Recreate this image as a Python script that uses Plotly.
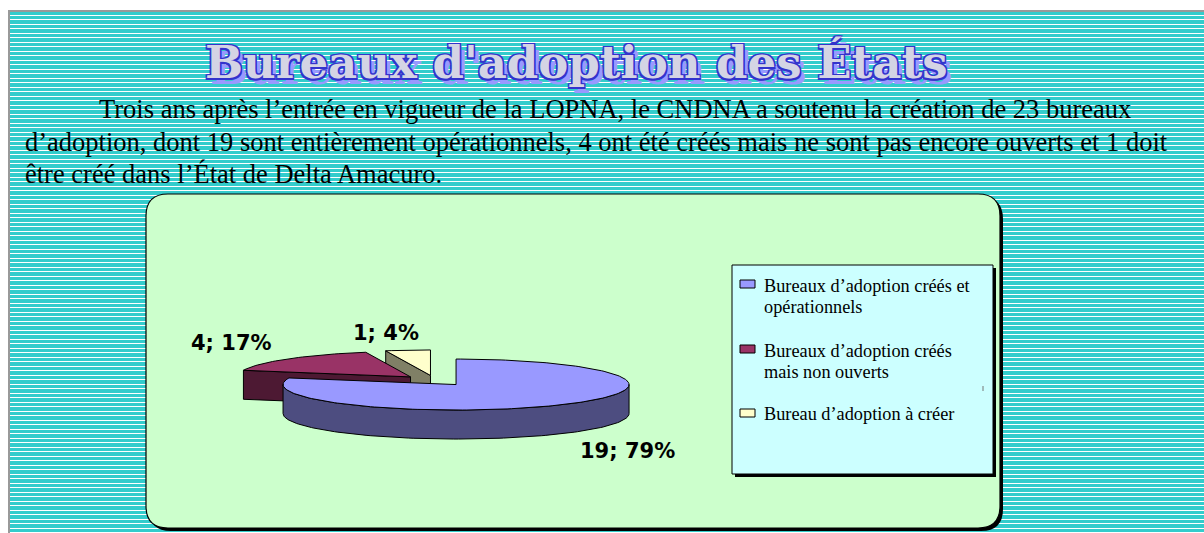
import numpy as np
import plotly.graph_objects as go

# ---------------- data ----------------
categories = ["Bureaux d’adoption créés et opérationnels",
              "Bureaux d’adoption créés mais non ouverts",
              "Bureau d’adoption à créer"]
legend_lines = [["Bureaux d’adoption créés et", "opérationnels"],
                ["Bureaux d’adoption créés", "mais non ouverts"],
                ["Bureau d’adoption à créer"]]
values = [19, 4, 1]
top_colors = ["#9999FF", "#993366", "#FFFFCC"]
side_colors = ["#4D4D80", "#4D1933", "#808066"]

title_text = "Bureaux d'adoption des États"
paragraph = ["Trois ans après l’entrée en vigueur de la LOPNA, le CNDNA a soutenu la création de 23 bureaux",
             "d’adoption, dont 19 sont entièrement opérationnels, 4 ont été créés mais ne sont pas encore ouverts et 1 doit",
             "être créé dans l’État de Delta Amacuro."]

# ---------------- layout constants (pixels) ----------------
W, H = 1204, 533
CX, CY = 435.0, 380.5      # pie centre
RX, RY = 173.0, 25.5       # ellipse radii
DEPTH = 29.0
EXPLODE = 0.2
label_pos = [(627, 451), (231, 343), (386, 333)]

fig = go.Figure()
shapes = []
annotations = []

# background
shapes.append(dict(type="rect", x0=8, x1=W + 2, y0=10, y1=H + 2, fillcolor="#33CCCC",
                   line=dict(width=0), layer="below"))
k = 0
while True:
    yy = int(np.floor(15 + 4.5 * k)) + 0.5
    if yy > H:
        break
    shapes.append(dict(type="line", x0=10, x1=W + 2, y0=yy, y1=yy,
                       line=dict(color="white", width=1), layer="below"))
    k += 1
shapes.append(dict(type="line", x0=9, x1=9, y0=10, y1=H + 2, line=dict(color="#999999", width=2), layer="below"))
shapes.append(dict(type="line", x0=8, x1=W + 2, y0=11, y1=11, line=dict(color="#999999", width=2), layer="below"))


def rounded(x0, y0, x1, y1, r):
    return (f"M {x0 + r},{y0} L {x1 - r},{y0} Q {x1},{y0} {x1},{y0 + r} "
            f"L {x1},{y1 - r} Q {x1},{y1} {x1 - r},{y1} L {x0 + r},{y1} "
            f"Q {x0},{y1} {x0},{y1 - r} L {x0},{y0 + r} Q {x0},{y0} {x0 + r},{y0} Z")


# green chart area with shadow
shapes.append(dict(type="path", path=rounded(149, 197, 1003, 531, 22), fillcolor="black",
                   line=dict(width=0), layer="below"))
shapes.append(dict(type="path", path=rounded(146, 194, 1000, 528, 22), fillcolor="#CCFFCC",
                   line=dict(color="black", width=1.2), layer="below"))

# legend box with shadow
shapes.append(dict(type="rect", x0=735, x1=996, y0=268, y1=477, fillcolor="black",
                   line=dict(width=0), layer="below"))
shapes.append(dict(type="rect", x0=732, x1=993, y0=265, y1=474, fillcolor="#CCFFFF",
                   line=dict(color="black", width=1), layer="below"))
shapes.append(dict(type="line", x0=983, x1=983, y0=386, y1=391, line=dict(color="#777777", width=1),
                   layer="below"))

# legend entries
leg_y = [286, 351, 415]
for i, lines in enumerate(legend_lines):
    sy = leg_y[i]
    shapes.append(dict(type="rect", x0=740, x1=755, y0=sy - 6, y1=sy + 2,
                       fillcolor=top_colors[i], line=dict(color="black", width=1), layer="below"))
    if len(lines) == 2:
        sy_list = [sy, sy + 21]
    else:
        sy_list = [sy - 1]
    for t, ty in zip(lines, sy_list):
        annotations.append(dict(x=762, y=ty, xref="x", yref="y", text=t, showarrow=False,
                                xanchor="left", yanchor="middle",
                                font=dict(family="Liberation Serif", size=18.3, color="black")))

# ---------------- 3D pie from values ----------------
total = sum(values)
fracs = [v / total for v in values]
starts = np.cumsum([0] + fracs[:-1]) * 2 * np.pi
ends = np.cumsum(fracs) * 2 * np.pi


def arc(ax, ay, a0, a1, dz=0.0, n=None):
    if n is None:
        n = max(4, int(abs(a1 - a0) / (2 * np.pi) * 240))
    th = np.linspace(a0, a1, n)
    return list(ax + RX * np.sin(th)), list(ay - RY * np.cos(th) + dz)


def poly(xs, ys, color):
    fig.add_trace(go.Scatter(x=xs + [xs[0]], y=ys + [ys[0]], mode="lines", fill="toself",
                             fillcolor=color, line=dict(color="black", width=1),
                             hoverinfo="skip", showlegend=False))


for i in [2, 1, 0]:
    a0, a1 = starts[i], ends[i]
    mid = (a0 + a1) / 2
    ax = CX + EXPLODE * RX * np.sin(mid)
    ay = CY - EXPLODE * RY * np.cos(mid)
    # radial cut faces
    for a, normal in [(a0, a0 - np.pi / 2), (a1, a1 + np.pi / 2)]:
        if np.cos(normal) < -1e-6:
            ox, oy = ax + RX * np.sin(a), ay - RY * np.cos(a)
            poly([ax, ox, ox, ax], [ay, oy, oy + DEPTH, ay + DEPTH], side_colors[i])
    # outer curved side (front half only)
    lo, hi = max(a0, np.pi / 2), min(a1, 3 * np.pi / 2)
    if hi > lo:
        tx, ty = arc(ax, ay, lo, hi)
        bx, by = arc(ax, ay, lo, hi, DEPTH)
        poly(tx + bx[::-1], ty + by[::-1], side_colors[i])
    # top face
    tx, ty = arc(ax, ay, a0, a1)
    poly([ax] + tx, [ay] + ty, top_colors[i])

# data labels
for i, v in enumerate(values):
    pct = round(100 * v / total)
    lx, ly = label_pos[i]
    annotations.append(dict(x=lx, y=ly, xref="x", yref="y", text=f"{v}; {pct}%", showarrow=False,
                            xanchor="center", yanchor="middle",
                            font=dict(family="DejaVu Sans", size=21, color="black", weight="bold")))

# title
annotations.append(dict(x=576, y=62, xref="x", yref="y", text=title_text, showarrow=False,
                        xanchor="center", yanchor="middle",
                        font=dict(family="DejaVu Serif", size=45, color="#D4D4E4", weight="bold",
                                  shadow="-1.5px -1.5px 0 #3333CC, 1.5px -1.5px 0 #3333CC, "
                                         "-1.5px 1.5px 0 #3333CC, 1.5px 1.5px 0 #3333CC, "
                                         "0 -1.5px 0 #3333CC, 0 1.5px 0 #3333CC, "
                                         "5px 6px 0 #9999FF")))

# paragraph
para_x = [97, 23, 23]
para_y = [109, 142, 174]
for t, px, py in zip(paragraph, para_x, para_y):
    annotations.append(dict(x=px, y=py, xref="x", yref="y", text=t, showarrow=False,
                            xanchor="left", yanchor="middle",
                            font=dict(family="Liberation Serif", size=26.5, color="black")))

fig.update_layout(
    width=W, height=H, margin=dict(l=0, r=0, t=0, b=0),
    paper_bgcolor="white", plot_bgcolor="rgba(0,0,0,0)",
    xaxis=dict(range=[0, W], visible=False, fixedrange=True),
    yaxis=dict(range=[H, 0], visible=False, fixedrange=True),
    shapes=shapes, annotations=annotations, showlegend=False,
)

fig.write_html("out.html", config={"displayModeBar": False, "staticPlot": True},
               post_script="document.body.style.margin='0';document.body.style.overflow='hidden';")
